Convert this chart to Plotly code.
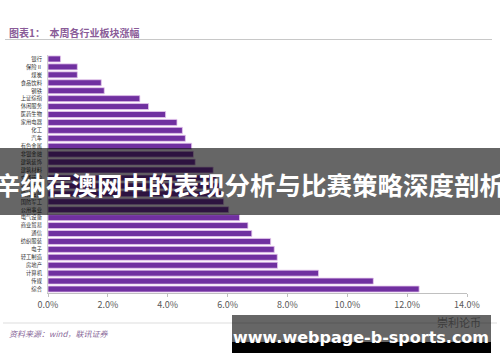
import plotly.graph_objects as go

W, H = 500, 362
ML, MR, MT, MB = 48, 33, 55, 69

categories = ["银行", "保险Ⅱ", "煤炭", "食品饮料", "钢铁", "上证综指", "休闲服务", "医药生物",
              "家用电器", "化工", "汽车", "有色金属", "非银金融", "建筑装饰", "建筑材料", "交通运输",
              "农林牧渔", "机械设备", "国防军工", "公用事业", "电气设备", "商业贸易", "通信", "纺织服装",
              "电子", "轻工制造", "房地产", "计算机", "传媒", "综合"]
values = [0.42, 0.98, 0.98, 1.78, 1.88, 3.07, 3.36, 3.93,
          4.31, 4.49, 4.59, 4.80, 4.86, 4.92, 5.52, 5.62,
          5.72, 5.80, 5.87, 6.04, 6.40, 6.68, 6.81, 7.44,
          7.56, 7.66, 7.67, 9.04, 10.87, 12.40]
xticks = [0, 2, 4, 6, 8, 10, 12, 14]

title_text = "图表1：  本周各行业板块涨幅"
source_text = "资料来源：wind，联讯证券"
banner_text = "辛纳在澳网中的表现分析与比赛策略深度剖析"
site_text = "www.webpage-b-sports.com"
mark_text = "崇利论币"

FONT = "Noto Sans CJK SC"
PW = W - ML - MR
PH = H - MT - MB


def px(x):
    return (x - ML) / PW


def py(y):
    return (H - MB - y) / PH


fig = go.Figure(go.Bar(
    x=values, y=categories, orientation="h",
    marker=dict(color="#7030a0", line=dict(color="#e6c8ee", width=0.8)),
    width=0.76,
))

shapes = [
    dict(type="line", xref="paper", yref="paper", x0=px(5), x1=px(492), y0=py(39.5), y1=py(39.5),
         line=dict(color="#c8c8c8", width=1)),
    dict(type="line", xref="paper", yref="paper", x0=px(3), x1=px(497), y0=py(323), y1=py(323),
         line=dict(color="#dddddd", width=1)),
    # big translucent banner
    dict(type="rect", xref="paper", yref="paper", x0=px(0), x1=px(500), y0=py(215), y1=py(148),
         fillcolor="rgba(0,0,0,0.6)", line=dict(width=0), layer="above"),
    # bottom site banner
    dict(type="rect", xref="paper", yref="paper", x0=px(232), x1=px(491), y0=py(342), y1=py(315),
         fillcolor="rgba(0,0,0,0.6)", line=dict(width=0), layer="above"),
    dict(type="rect", xref="paper", yref="paper", x0=px(232), x1=px(491), y0=py(353), y1=py(342),
         fillcolor="#000000", line=dict(width=0), layer="above"),
]

annotations = [
    dict(text="<b>" + title_text + "</b>", xref="paper", yref="paper", x=px(7), y=py(32.5),
         xanchor="left", yanchor="middle", showarrow=False,
         font=dict(family=FONT, size=10, color="#8a5c98")),
    dict(text="<i>" + source_text + "</i>", xref="paper", yref="paper", x=px(7), y=py(333),
         xanchor="left", yanchor="middle", showarrow=False,
         font=dict(family=FONT, size=8, color="#8a6a9a")),
    dict(text="<b>" + banner_text + "</b>", xref="paper", yref="paper", x=px(250), y=py(183),
         xanchor="center", yanchor="middle", showarrow=False,
         font=dict(family=FONT, size=25.5, color="#ffffff")),
    dict(text=mark_text, xref="paper", yref="paper", x=px(459), y=py(322),
         xanchor="center", yanchor="middle", showarrow=False,
         font=dict(family=FONT, size=11, color="#3c3c3c")),
    dict(text="<b>" + site_text + "</b>", xref="paper", yref="paper", x=px(361), y=py(337),
         xanchor="center", yanchor="middle", showarrow=False,
         font=dict(family="DejaVu Sans", size=16, color="#ffffff")),
]

fig.update_layout(
    width=W, height=H, autosize=False,
    margin=dict(l=ML, r=MR, t=MT, b=MB, pad=0),
    paper_bgcolor="white", plot_bgcolor="white",
    showlegend=False, bargap=0.24,
    font=dict(family=FONT),
    xaxis=dict(range=[0, 14], tickvals=xticks, ticktext=[f"{v:.1f}%" for v in xticks],
               showgrid=False, zeroline=False, showline=True, linecolor="#c0c0c0", linewidth=1,
               ticks="outside", ticklen=3, tickcolor="#c0c0c0",
               tickfont=dict(family=FONT, size=9, color="#595959")),
    yaxis=dict(autorange="reversed", tickmode="linear", tick0=0, dtick=1,
               showgrid=False, zeroline=False, showline=True,
               linecolor="#d0d0d0", linewidth=1, ticks="", ticklabelstandoff=4,
               tickfont=dict(family=FONT, size=5.3, color="#333333")),
    shapes=shapes, annotations=annotations,
)

fig.write_html("out.html")
